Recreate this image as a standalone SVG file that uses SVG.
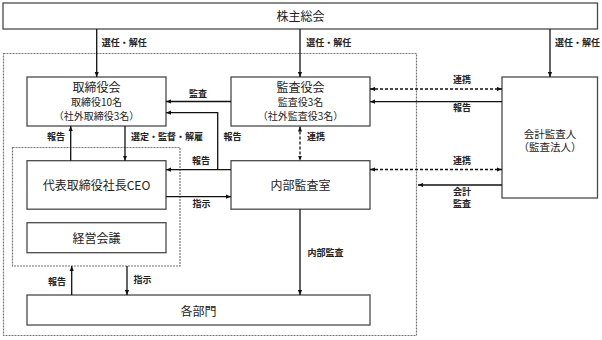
<svg xmlns="http://www.w3.org/2000/svg" width="602" height="340" viewBox="0 0 602 340">
<style>
.box{fill:#fff;stroke:#4a4a4a;stroke-width:1.3}
.grp{fill:none;stroke:#777;stroke-width:1.2;stroke-dasharray:2 1}
.t{font-family:"Noto Sans CJK JP","Liberation Sans",sans-serif;fill:#222;text-anchor:middle}
.tt{font-size:12px}
.ts{font-size:10px}
.lb{font-family:"Noto Sans CJK JP","Liberation Sans",sans-serif;font-size:9px;font-weight:bold;fill:#222;text-anchor:middle}
.c{fill:none;stroke:#111;stroke-width:1.3}
.d{stroke-dasharray:3 2}
</style>
<defs>
<marker id="ah" viewBox="0 0 6 6" refX="6" refY="3" markerWidth="5" markerHeight="5" orient="auto-start-reverse" markerUnits="userSpaceOnUse">
<path d="M0,0.5 L6,3 L0,5.5 Z" fill="#111"/>
</marker>
</defs>
<rect class="grp" x="3.5" y="53.5" width="413" height="282"/>
<rect class="grp" x="12.5" y="147.5" width="167.5" height="118.5"/>
<g id="kabunushi"><rect class="box" x="3" y="3" width="594.5" height="26"/><text class="t tt" x="300.5" y="20.5">株主総会</text></g>
<g id="torishimariyakukai"><rect class="box" x="27" y="77" width="139" height="49"/><text class="t tt" x="96.5" y="91.5">取締役会</text><text class="t ts" x="96.5" y="105.5">取締役10名</text><text class="t ts" x="96.5" y="119.5">（社外取締役3名）</text></g>
<g id="kansayakukai"><rect class="box" x="231" y="77" width="139" height="49"/><text class="t tt" x="300.5" y="91.5">監査役会</text><text class="t ts" x="300.5" y="105.5">監査役3名</text><text class="t ts" x="300.5" y="119.5">（社外監査役3名）</text></g>
<g id="kaikeikansanin"><rect class="box" x="502" y="77" width="95.5" height="121"/><text class="t" style="font-size:10.5px" x="550" y="137.5">会計監査人</text><text class="t" style="font-size:10.5px" x="550" y="151">（監査法人）</text></g>
<g id="ceo"><rect class="box" x="27" y="160.7" width="139" height="48.5"/><text class="t tt" x="96.5" y="189.5">代表取締役社長CEO</text></g>
<g id="naibukansashitsu"><rect class="box" x="231" y="160.7" width="139" height="48.5"/><text class="t tt" x="300.5" y="189.5">内部監査室</text></g>
<g id="keieikaigi"><rect class="box" x="27" y="222.7" width="139" height="30"/><text class="t tt" x="96.5" y="242.5">経営会議</text></g>
<g id="kakubumon"><rect class="box" x="27" y="295" width="343" height="30"/><text class="t tt" x="198.5" y="316">各部門</text></g>
<g id="connectors">
<path class="c" d="M96.7,29 V77" marker-end="url(#ah)"/>
<path class="c" d="M300,29 V77" marker-end="url(#ah)"/>
<path class="c" d="M550,29 V77" marker-end="url(#ah)"/>
<path class="c" d="M231,101.5 H166" marker-end="url(#ah)"/>
<path class="c" d="M231,169.7 H166" marker-end="url(#ah)"/>
<path class="c" d="M217.7,169.7 V112.7 H166" marker-end="url(#ah)"/>
<path class="c" d="M166,196.7 H231" marker-end="url(#ah)"/>
<path class="c" d="M70.7,160.7 V126" marker-end="url(#ah)"/>
<path class="c" d="M125,126 V160.7" marker-end="url(#ah)"/>
<path class="c d" d="M300,126.5 V160.5" marker-start="url(#ah)" marker-end="url(#ah)"/>
<path class="c d" d="M370,89 H502" marker-start="url(#ah)" marker-end="url(#ah)"/>
<path class="c" d="M502,101.7 H370" marker-end="url(#ah)"/>
<path class="c d" d="M370,169.5 H502" marker-start="url(#ah)" marker-end="url(#ah)"/>
<path class="c" d="M502,185 H418" marker-end="url(#ah)"/>
<path class="c" d="M300,209.2 V295" marker-end="url(#ah)"/>
<path class="c" d="M71.7,295 V266" marker-end="url(#ah)"/>
<path class="c" d="M127,266 V295" marker-end="url(#ah)"/>
</g>
<g id="labels">
<text class="lb" x="124.2" y="46">選任・解任</text>
<text class="lb" x="328.8" y="46">選任・解任</text>
<text class="lb" x="577.5" y="46">選任・解任</text>
<text class="lb" x="198" y="96.5">監査</text>
<text class="lb" x="232.5" y="140.3">報告</text>
<text class="lb" x="201" y="164.3">報告</text>
<text class="lb" x="201.5" y="207.3">指示</text>
<text class="lb" x="316" y="140.3">連携</text>
<text class="lb" x="56" y="140.3">報告</text>
<text class="lb" x="167" y="140.3">選定・監督・解雇</text>
<text class="lb" x="462" y="83.3">連携</text>
<text class="lb" x="462" y="111.3">報告</text>
<text class="lb" x="462" y="164">連携</text>
<text class="lb" x="462" y="194.5">会計</text>
<text class="lb" x="462" y="206.8">監査</text>
<text class="lb" x="325.5" y="256">内部監査</text>
<text class="lb" x="57" y="285">報告</text>
<text class="lb" x="142.5" y="283.3">指示</text>
</g>
</svg>
